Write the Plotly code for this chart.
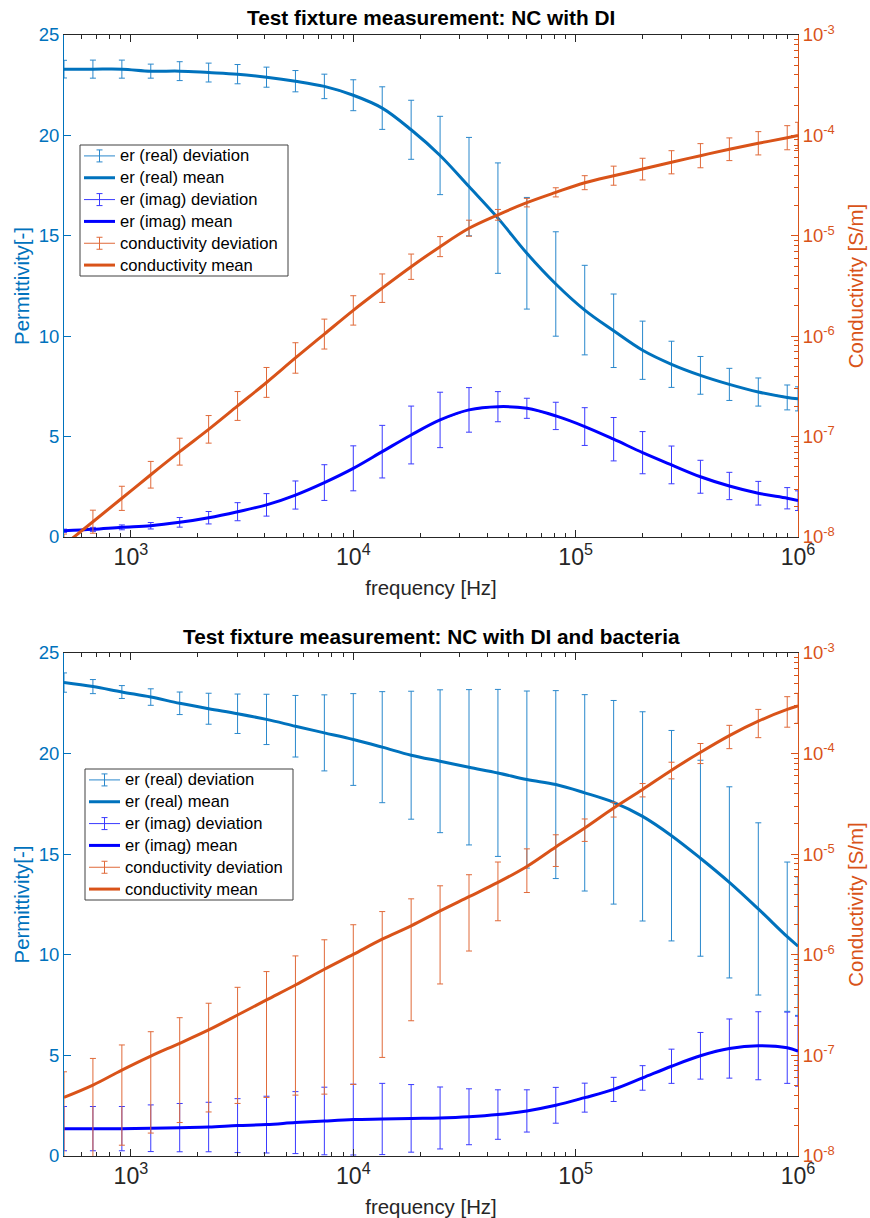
import plotly.graph_objects as go

# frequency points where the error bars sit [Hz]
freq = [500, 674.6, 910.3, 1228, 1657, 2236, 3017, 4071, 5493, 7411, 10000,
        13493, 18206, 24565, 33145, 44721, 60342, 81418, 109856, 148227,
        200000, 269859, 364119, 491300, 662891, 894427, 1000000]

# --- NC with DI ---
di_real_mean = [23.3, 23.3, 23.3, 23.2, 23.2, 23.13, 23.05, 22.9, 22.7, 22.44, 22.0,
                21.36, 20.28, 19.0, 17.45, 15.88, 14.13, 12.6, 11.3, 10.27, 9.3,
                8.6, 8.05, 7.6, 7.22, 6.95, 6.88]
di_real_std = [0.44, 0.45, 0.45, 0.35, 0.47, 0.47, 0.48, 0.5, 0.53, 0.61, 0.77,
               1.06, 1.47, 1.95, 2.45, 2.75, 2.78, 2.6, 2.23, 1.83, 1.45,
               1.15, 0.94, 0.8, 0.7, 0.62, 0.6]
di_imag_mean = [0.31, 0.38, 0.48, 0.56, 0.73, 0.96, 1.26, 1.6, 2.09, 2.71, 3.42,
                4.25, 5.08, 5.83, 6.33, 6.49, 6.41, 6.03, 5.5, 4.87, 4.2,
                3.59, 3.0, 2.54, 2.18, 1.93, 1.81]
di_imag_std = [0.08, 0.1, 0.12, 0.16, 0.24, 0.31, 0.45, 0.56, 0.7, 0.89, 1.12,
               1.31, 1.44, 1.38, 1.11, 0.75, 0.5, 0.68, 0.94, 1.08, 1.05,
               0.94, 0.82, 0.68, 0.59, 0.53, 0.49]
di_cond_mean = [8.32e-9, 1.42e-8, 2.43e-8, 4.17e-8, 7.08e-8, 1.18e-7, 2.02e-7, 3.46e-7,
                6.07e-7, 1.05e-6, 1.81e-6, 3.01e-6, 4.92e-6, 7.80e-6, 1.19e-5, 1.62e-5,
                2.14e-5, 2.71e-5, 3.38e-5, 3.97e-5, 4.62e-5, 5.40e-5, 6.28e-5, 7.28e-5,
                8.34e-5, 9.48e-5, 1.00e-4]
di_cond_hi = [1.07e-8, 1.85e-8, 3.20e-8, 5.66e-8, 9.64e-8, 1.62e-7, 2.81e-7, 4.88e-7,
              8.61e-7, 1.48e-6, 2.53e-6, 4.17e-6, 6.58e-6, 9.82e-6, 1.43e-5, 1.83e-5,
              2.36e-5, 3.01e-5, 3.97e-5, 4.94e-5, 5.92e-5, 7.04e-5, 8.28e-5, 9.44e-5,
              1.09e-4, 1.25e-4, 1.35e-4]
di_cond_lo = [6.46e-9, 1.09e-8, 1.84e-8, 3.07e-8, 5.20e-8, 8.61e-8, 1.45e-7, 2.46e-7,
              4.28e-7, 7.45e-7, 1.29e-6, 2.17e-6, 3.68e-6, 6.20e-6, 9.90e-6, 1.43e-5,
              1.94e-5, 2.44e-5, 2.88e-5, 3.19e-5, 3.60e-5, 4.14e-5, 4.76e-5, 5.61e-5,
              6.39e-5, 7.19e-5, 7.41e-5]

# --- NC with DI and bacteria ---
bac_real_mean = [23.53, 23.33, 23.06, 22.81, 22.5, 22.23, 21.98, 21.7, 21.36, 21.03, 20.7,
                 20.32, 19.92, 19.62, 19.32, 19.04, 18.71, 18.46, 18.05, 17.58, 16.88,
                 15.92, 14.8, 13.6, 12.28, 10.9, 10.43]
bac_real_std = [0.48, 0.35, 0.32, 0.41, 0.56, 0.77, 0.98, 1.25, 1.53, 1.89, 2.28,
                2.76, 3.18, 3.55, 3.86, 4.15, 4.4, 4.67, 4.88, 5.06, 5.2,
                5.23, 4.87, 4.75, 4.28, 3.71, 3.44]
bac_imag_mean = [1.36, 1.36, 1.36, 1.38, 1.41, 1.44, 1.51, 1.56, 1.66, 1.74, 1.81,
                 1.84, 1.87, 1.89, 1.95, 2.06, 2.24, 2.52, 2.9, 3.31, 3.88,
                 4.46, 4.98, 5.34, 5.48, 5.38, 5.21]
bac_imag_std = [1.1, 1.1, 1.1, 1.16, 1.2, 1.23, 1.34, 1.41, 1.54, 1.68, 1.76,
                1.77, 1.68, 1.54, 1.39, 1.23, 1.05, 0.89, 0.72, 0.6, 0.61,
                0.85, 1.16, 1.47, 1.69, 1.77, 1.74]
bac_cond_mean = [3.82e-8, 5.06e-8, 7.14e-8, 9.84e-8, 1.32e-7, 1.79e-7, 2.52e-7, 3.56e-7,
                 5.01e-7, 7.18e-7, 1.01e-6, 1.43e-6, 1.94e-6, 2.73e-6, 3.78e-6, 5.24e-6,
                 7.55e-6, 1.18e-5, 1.82e-5, 2.88e-5, 4.40e-5, 6.84e-5, 1.03e-4, 1.51e-4,
                 2.10e-4, 2.75e-4, 2.97e-4]
bac_cond_hi = [6.87e-8, 9.33e-8, 1.27e-7, 1.72e-7, 2.37e-7, 3.30e-7, 4.75e-7, 6.81e-7,
               9.75e-7, 1.41e-6, 1.99e-6, 2.69e-6, 3.60e-6, 4.85e-6, 6.25e-6, 8.36e-6,
               1.13e-5, 1.56e-5, 2.24e-5, 3.28e-5, 5.04e-5, 8.21e-5, 1.26e-4, 1.91e-4,
               2.75e-4, 3.68e-4, 3.97e-4]
bac_cond_lo = [7.7e-9, 9.0e-9, 1.28e-8, 1.69e-8, 2.15e-8, 2.74e-8, 3.33e-8, 3.82e-8,
               4.03e-8, 4.12e-8, 5.14e-8, 9.55e-8, 2.21e-7, 5.13e-7, 1.09e-6, 2.18e-6,
               4.16e-6, 7.55e-6, 1.34e-5, 2.34e-5, 3.71e-5, 5.61e-5, 7.96e-5, 1.12e-4,
               1.44e-4, 1.83e-4, 2.00e-4]

cond_ticks = [1e-8, 1e-7, 1e-6, 1e-5, 1e-4, 1e-3]
cond_ticktext = ["10<sup>-8</sup>", "10<sup>-7</sup>", "10<sup>-6</sup>",
                 "10<sup>-5</sup>", "10<sup>-4</sup>", "10<sup>-3</sup>"]

legend_names = ["er (real) deviation", "er (real) mean", "er (imag) deviation",
                "er (imag) mean", "conductivity deviation", "conductivity mean"]

C_REAL = "#0072BD"
C_IMAG = "#0000FF"
C_COND = "#D95319"
# thin 1px bars look lighter in the reference (anti-aliased)
C_REAL_BAR = "#2a88cc"
C_IMAG_BAR = "#3a3aff"
C_COND_BAR = "#e06a3a"
DARK = "#262626"
FONT = "Liberation Sans, Arial, Helvetica, sans-serif"

# plot box in pixels (same x for both panels)
PX_L, PX_R = 64, 798
PANELS = [dict(top=35, bottom=537), dict(top=653, bottom=1156)]

fig = go.Figure()


def add_panel(fig, xa, ya, ya2, real_m, real_s, imag_m, imag_s, cond_m, cond_hi, cond_lo):
    dev = dict(mode="lines", line=dict(width=1), xaxis=xa, showlegend=False)
    mean = dict(mode="lines", xaxis=xa, showlegend=False)
    fig.add_trace(go.Scatter(
        x=freq, y=real_m, name=legend_names[0], yaxis=ya, line_color=C_REAL_BAR,
        error_y=dict(type="data", array=real_s, color=C_REAL_BAR, thickness=1, width=3),
        **dev))
    fig.add_trace(go.Scatter(
        x=freq, y=real_m, name=legend_names[1], yaxis=ya,
        line=dict(color=C_REAL, width=3, shape="spline"), **mean))
    fig.add_trace(go.Scatter(
        x=freq, y=imag_m, name=legend_names[2], yaxis=ya, line_color=C_IMAG_BAR,
        error_y=dict(type="data", array=imag_s, color=C_IMAG_BAR, thickness=1, width=3),
        **dev))
    fig.add_trace(go.Scatter(
        x=freq, y=imag_m, name=legend_names[3], yaxis=ya,
        line=dict(color=C_IMAG, width=3, shape="spline"), **mean))
    up = [h - m for h, m in zip(cond_hi, cond_m)]
    dn = [m - l for m, l in zip(cond_m, cond_lo)]
    fig.add_trace(go.Scatter(
        x=freq, y=cond_m, name=legend_names[4], yaxis=ya2, line_color=C_COND_BAR,
        error_y=dict(type="data", symmetric=False, array=up, arrayminus=dn,
                     color=C_COND_BAR, thickness=1, width=3),
        **dev))
    fig.add_trace(go.Scatter(
        x=freq, y=cond_m, name=legend_names[5], yaxis=ya2,
        line=dict(color=C_COND, width=3, shape="spline"), **mean))


def add_legend(fig, xref, yref, panel, box):
    # MATLAB-style legend box with error-bar glyphs, placed in pixels
    top, bottom = panel["top"], panel["bottom"]
    fx = lambda px: (px - PX_L) / (PX_R - PX_L)
    fy = lambda py: (bottom - py) / (bottom - top)
    left, btop, right, bbot = box
    ref = dict(xref=xref, yref=yref)
    fig.add_shape(type="rect", x0=fx(left), x1=fx(right), y0=fy(bbot), y1=fy(btop),
                  line=dict(color="#404040", width=1), fillcolor="white", layer="above", **ref)
    pitch = (bbot - btop) / len(legend_names)
    colors = [C_REAL_BAR, C_REAL, C_IMAG_BAR, C_IMAG, C_COND_BAR, C_COND]
    for i, (name, col) in enumerate(zip(legend_names, colors)):
        yc = btop + pitch * (i + 0.5)
        is_dev = "deviation" in name
        fig.add_shape(type="line", x0=fx(left + 4), x1=fx(left + 35), y0=fy(yc), y1=fy(yc),
                      line=dict(color=col, width=1 if is_dev else 3), layer="above", **ref)
        if is_dev:
            xc = left + 19.5
            fig.add_shape(type="line", x0=fx(xc), x1=fx(xc), y0=fy(yc - 6), y1=fy(yc + 6),
                          line=dict(color=col, width=1), layer="above", **ref)
            for yy in (yc - 6, yc + 6):
                fig.add_shape(type="line", x0=fx(xc - 3), x1=fx(xc + 3), y0=fy(yy), y1=fy(yy),
                              line=dict(color=col, width=1), layer="above", **ref)
        fig.add_annotation(text=name, x=fx(left + 38), y=fy(yc), xanchor="left",
                           yanchor="middle", showarrow=False,
                           font=dict(size=16.6, color="black", family=FONT), **ref)


add_panel(fig, "x", "y", "y2",
          di_real_mean, di_real_std, di_imag_mean, di_imag_std,
          di_cond_mean, di_cond_hi, di_cond_lo)
add_panel(fig, "x2", "y3", "y4",
          bac_real_mean, bac_real_std, bac_imag_mean, bac_imag_std,
          bac_cond_mean, bac_cond_hi, bac_cond_lo)

TICK = 18.5
LABEL = 20.4

xaxis_common = dict(
    type="log", range=[2.69897, 6], dtick=1, exponentformat="power",
    showline=True, linecolor=DARK, linewidth=1, mirror="ticks",
    ticks="inside", ticklen=7, tickcolor=DARK,
    minor=dict(ticks="inside", ticklen=4, tickcolor=DARK, showgrid=False),
    showgrid=False, zeroline=False, automargin=False,
    tickfont=dict(size=TICK, color=DARK, family=FONT),
    title=dict(text="frequency [Hz]", font=dict(size=LABEL, color=DARK, family=FONT), standoff=11),
)
yleft_common = dict(
    range=[0, 25], dtick=5, showline=True, linecolor=C_REAL, linewidth=1,
    ticks="inside", ticklen=7, tickcolor=C_REAL, showgrid=False, zeroline=False,
    automargin=False,
    tickfont=dict(size=TICK, color=C_REAL, family=FONT),
    title=dict(text="Permittivity[-]", font=dict(size=LABEL, color=C_REAL, family=FONT), standoff=3),
)
yright_common = dict(
    type="log", range=[-8, -3], tickvals=cond_ticks, ticktext=cond_ticktext, side="right",
    showline=True, linecolor=C_COND, linewidth=1,
    ticks="inside", ticklen=7, tickcolor=C_COND,
    minor=dict(ticks="inside", ticklen=4, tickcolor=C_COND, showgrid=False, dtick="D1"),
    showgrid=False, zeroline=False, automargin=False,
    tickfont=dict(size=TICK, color=C_COND, family=FONT),
    title=dict(text="Conductivity [S/m]", font=dict(size=LABEL, color=C_COND, family=FONT), standoff=14),
)

fig.update_layout(
    width=870, height=1218,
    margin=dict(l=PX_L, r=870 - PX_R, t=35, b=1218 - 1156),
    paper_bgcolor="white", plot_bgcolor="white",
    font=dict(family=FONT, color=DARK),
    showlegend=False,
    xaxis=dict(domain=[0, 1], anchor="y", **xaxis_common),
    yaxis=dict(domain=[(1156 - 537) / 1121, 1], anchor="x", **yleft_common),
    yaxis2=dict(overlaying="y", anchor="x", **yright_common),
    xaxis2=dict(domain=[0, 1], anchor="y3", **xaxis_common),
    yaxis3=dict(domain=[0, (1156 - 653) / 1121], anchor="x2", **yleft_common),
    yaxis4=dict(overlaying="y3", anchor="x2", **yright_common),
)

fig.add_annotation(text="<b>Test fixture measurement: NC with DI</b>", x=0.5, y=1.016,
                   xref="paper", yref="paper", showarrow=False, yanchor="middle",
                   font=dict(size=20.8, color="black", family=FONT))
fig.add_annotation(text="<b>Test fixture measurement: NC with DI and bacteria</b>", x=0.5,
                   y=(1156 - 636) / 1121, xref="paper", yref="paper", showarrow=False,
                   yanchor="middle", font=dict(size=20.8, color="black", family=FONT))

add_legend(fig, "x domain", "y domain", PANELS[0], (80, 145, 288, 276))
add_legend(fig, "x2 domain", "y3 domain", PANELS[1], (85, 769, 293, 900))

# drop the browser's default 8px body margin so the figure sits at the page corner
fig.write_html("out.html", config={"displayModeBar": False},
               post_script="document.body.style.margin='0';")
